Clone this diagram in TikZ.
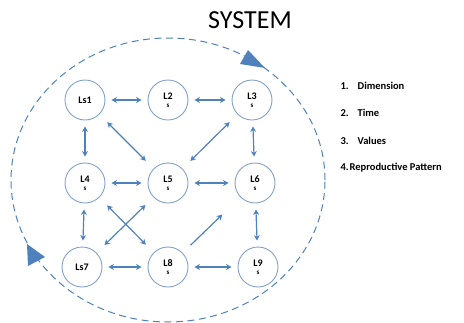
\documentclass[tikz,border=0pt]{standalone}
\usepackage{fontspec}
\setmainfont{Carlito}
\usetikzlibrary{arrows.meta}
\definecolor{arrowblue}{RGB}{79,129,189}
\definecolor{ringblue}{RGB}{130,160,205}
\begin{document}
\begin{tikzpicture}[x=1pt, y=-1pt,
    state/.style={circle, draw=ringblue, line width=0.9pt, minimum size=40pt, inner sep=0pt,
                  align=center, font=\fontsize{10}{9}\selectfont\bfseries},
    link/.style={<->, >={Stealth[length=5.5pt,width=6pt]}, draw=arrowblue, line width=1.2pt,
                 shorten <=6pt, shorten >=6pt},
    diag/.style={link, shorten <=11pt, shorten >=11pt},
    item/.style={anchor=west, font=\fontsize{10.5}{12}\selectfont\bfseries}]
    \useasboundingbox (0,0) rectangle (464,322);
    \node[font=\fontsize{26}{28}\selectfont] at (250,20) (title) {SYSTEM};
    % system boundary
    \draw[arrowblue, line width=1pt, dash pattern=on 7pt off 4.5pt] (168,180) ellipse [x radius=157pt, y radius=142pt];
    \fill[arrowblue] (240,64) -- (248,50) -- (265,68) -- cycle;
    \fill[arrowblue] (27,244) -- (28,266) -- (45,257) -- cycle;
    % states
    \node[state] at (85,100) (ls1) {Ls1};
    \node[state] at (168,100) (l2) {L2\\[-1pt]{\fontsize{7}{7}\selectfont s}};
    \node[state] at (252,100) (l3) {L3\\[-1pt]{\fontsize{7}{7}\selectfont s}};
    \node[state] at (85,183) (l4) {L4\\[-1pt]{\fontsize{7}{7}\selectfont s}};
    \node[state] at (168,183) (l5) {L5\\[-1pt]{\fontsize{7}{7}\selectfont s}};
    \node[state] at (255,183) (l6) {L6\\[-1pt]{\fontsize{7}{7}\selectfont s}};
    \node[state] at (82,267) (ls7) {Ls7};
    \node[state] at (168,267) (l8) {L8\\[-1pt]{\fontsize{7}{7}\selectfont s}};
    \node[state] at (258,267) (l9) {L9\\[-1pt]{\fontsize{7}{7}\selectfont s}};
    % links
    \draw[link] (ls1) -- (l2);
    \draw[link] (l2) -- (l3);
    \draw[link] (l4) -- (l5);
    \draw[link] (l5) -- (l6);
    \draw[link] (ls7) -- (l8);
    \draw[link] (l8) -- (l9);
    \draw[link] (ls1) -- (l4);
    \draw[link] (l4) -- (ls7);
    \draw[link] (l3) -- (l6);
    \draw[link] (l6) -- (l9);
    \draw[diag] (ls1) -- (l5);
    \draw[diag] (l3) -- (l5);
    \draw[diag] (l4) -- (l8);
    \draw[diag] (ls7) -- (l5);
    \draw[diag, <-, shorten <=25pt] (l6) -- (l8);
    % legend
    \node[item] at (337,86) (dim) {1.\hspace{9pt}Dimension};
    \node[item] at (337,113) (time) {2.\hspace{9pt}Time};
    \node[item] at (337,141) (val) {3.\hspace{9pt}Values};
    \node[item] at (337,168) (rep) {4.\hspace{1pt}Reproductive Pattern};
\end{tikzpicture}
\end{document}
